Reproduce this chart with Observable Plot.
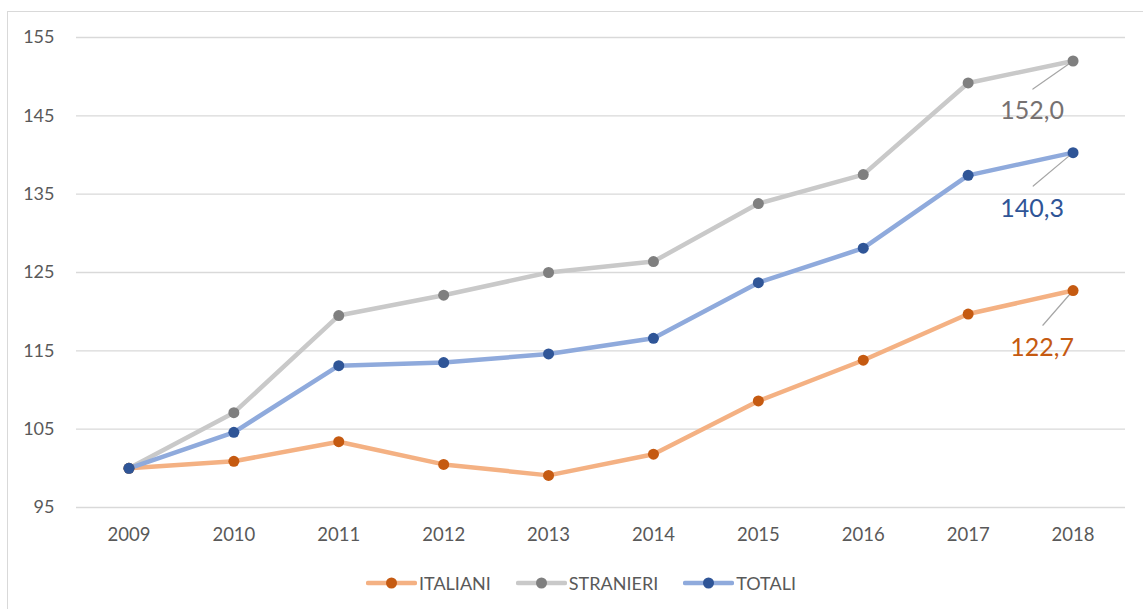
<!DOCTYPE html>
<html>
<head>
<meta charset="utf-8">
<script src="https://cdn.jsdelivr.net/npm/d3@7"></script>
<script src="https://cdn.jsdelivr.net/npm/@observablehq/plot@0.6"></script>
<style>
  html, body { margin: 0; padding: 0; background: #fff; overflow: hidden; }
  body { position: relative; width: 1143px; height: 609px; font-family: Lato, "Open Sans", sans-serif; }
  #frame { position: absolute; left: 7px; top: 11px; width: 1200px; height: 700px; border: 1px solid #d9d9d9; box-sizing: border-box; }
  #chart { position: absolute; left: 0; top: 0; }
  #legend { position: absolute; left: 366px; top: 572px; display: flex; align-items: center; font-size: 18px; color: #595959; }
  .item { display: flex; align-items: center; margin-right: 25px; }
  .item svg { margin-right: 2px; }
</style>
</head>
<body>
<div id="frame"></div>
<div id="chart"></div>
<div id="legend"></div>
<script>
const years = [2009, 2010, 2011, 2012, 2013, 2014, 2015, 2016, 2017, 2018];
const italiani = [100.0, 100.9, 103.4, 100.5, 99.1, 101.8, 108.6, 113.8, 119.7, 122.7];
const stranieri = [100.0, 107.1, 119.5, 122.1, 125.0, 126.4, 133.8, 137.5, 149.2, 152.0];
const totali = [100.0, 104.6, 113.1, 113.5, 114.6, 116.6, 123.7, 128.1, 137.4, 140.3];
const seriesNames = ["ITALIANI", "STRANIERI", "TOTALI"];
const yTicks = [95, 105, 115, 125, 135, 145, 155];
const lastLabels = ["122,7", "152,0", "140,3"];

const lineColors = {ITALIANI: "#F4B183", STRANIERI: "#C9C9C9", TOTALI: "#8FAADC"};
const dotColors = {ITALIANI: "#C55A11", STRANIERI: "#7F7F7F", TOTALI: "#2F5597"};
const labelColors = {ITALIANI: "#C55A11", STRANIERI: "#767171", TOTALI: "#2F5597"};

const valuesBy = {ITALIANI: italiani, STRANIERI: stranieri, TOTALI: totali};
const data = seriesNames.flatMap(s => years.map((y, i) => ({series: s, year: String(y), value: valuesBy[s][i]})));
const lasts = seriesNames.map((s, k) => ({series: s, year: String(years[years.length - 1]), value: valuesBy[s][years.length - 1], label: lastLabels[k]}));

// leader-line geometry per series (pixel offsets from the last point)
const leader = {
  STRANIERI: {len: 49, rot: 235, dx: -41, dy: 50},
  TOTALI: {len: 52, rot: 230, dx: -41, dy: 56},
  ITALIANI: {len: 46, rot: 221, dx: -31, dy: 57}
};

const spike = {draw(ctx, l) { ctx.moveTo(0, 0); ctx.lineTo(0, -l); }};

const marks = [
  Plot.ruleY(yTicks, {stroke: "#d9d9d9", strokeWidth: 1.3}),
  Plot.axisY(yTicks, {tickSize: 0, tickPadding: 22, fontSize: 18, fill: "#595959", label: null}),
  Plot.axisX({tickSize: 0, tickPadding: 20, fontSize: 18.5, fill: "#595959", label: null}),
  ...seriesNames.map(s => Plot.line(data.filter(d => d.series === s), {x: "year", y: "value", stroke: lineColors[s], strokeWidth: 4.5, strokeLinejoin: "round", strokeLinecap: "round"})),
  ...lasts.map(d => Plot.vector([d], {x: "year", y: "value", length: leader[d.series].len, rotate: leader[d.series].rot, anchor: "start", shape: spike, stroke: "#A6A6A6", strokeWidth: 1.2})),
  ...seriesNames.map(s => Plot.dot(data.filter(d => d.series === s), {x: "year", y: "value", r: 5.5, fill: dotColors[s], stroke: "none"})),
  ...lasts.map(d => Plot.text([d], {x: "year", y: "value", text: "label", dx: leader[d.series].dx, dy: leader[d.series].dy, fontSize: 25, fill: labelColors[d.series], textAnchor: "middle"}))
];

const chart = Plot.plot({
  width: 1143,
  height: 540,
  marginLeft: 76,
  marginRight: 18,
  marginTop: 37,
  marginBottom: 33,
  style: {fontFamily: "Lato, 'Open Sans', sans-serif", background: "transparent", overflow: "visible"},
  x: {type: "point", domain: years.map(String), padding: 0.5, round: false},
  y: {domain: [95, 155]},
  marks
});
document.getElementById("chart").appendChild(chart);

const legend = document.getElementById("legend");
seriesNames.forEach(s => {
  const item = document.createElement("div");
  item.className = "item";
  item.innerHTML = `<svg width="51" height="14"><line x1="2" y1="7" x2="49" y2="7" stroke="${lineColors[s]}" stroke-width="4.5" stroke-linecap="round"/><circle cx="25.5" cy="7" r="5.5" fill="${dotColors[s]}"/></svg><span>${s}</span>`;
  legend.appendChild(item);
});
</script>
</body>
</html>
